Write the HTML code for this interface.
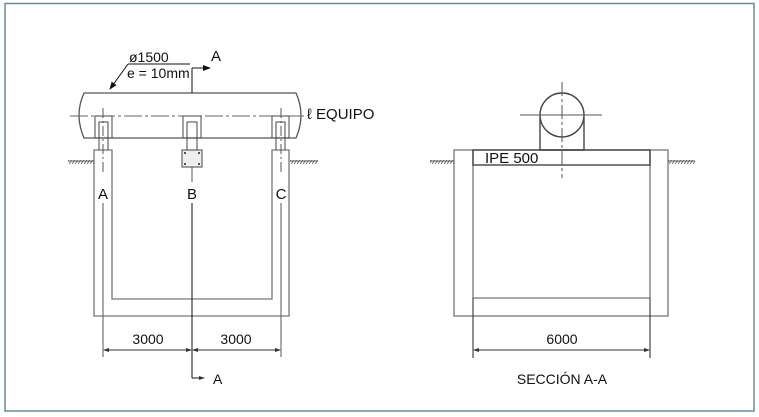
<!DOCTYPE html>
<html><head><meta charset="utf-8"><style>
html,body{margin:0;padding:0;background:#fff}
svg{display:block}
text{font-family:"Liberation Sans",sans-serif;fill:#111}
</style></head><body>
<svg width="759" height="417" viewBox="0 0 759 417" xmlns="http://www.w3.org/2000/svg">
<defs>
<marker id="ar" markerWidth="8" markerHeight="6" refX="7" refY="3" orient="auto" markerUnits="userSpaceOnUse"><path d="M0,0 L8,3 L0,6 Z" fill="#111"/></marker>
<marker id="sa" markerWidth="6" markerHeight="4" refX="5" refY="2" orient="auto" markerUnits="userSpaceOnUse"><path d="M0,0 L6,2 L0,4 Z" fill="#333"/></marker>
<marker id="sb" markerWidth="6" markerHeight="4" refX="1" refY="2" orient="auto" markerUnits="userSpaceOnUse"><path d="M6,0 L0,2 L6,4 Z" fill="#333"/></marker>
<pattern id="h" width="3" height="4" patternUnits="userSpaceOnUse"><line x1="0" y1="4" x2="3" y2="0" stroke="#555" stroke-width="0.8"/></pattern>
</defs>
<rect x="5" y="3.5" width="749" height="407.5" fill="none" stroke="#6a8a94" stroke-width="1.5"/>

<g fill="none" stroke="#777" stroke-width="1.3">
<path d="M94,150 H112 V299 H272 V150 H289 V316 H94 Z"/>
</g>
<rect x="68" y="160" width="26" height="4" fill="url(#h)"/>
<line x1="68" y1="161" x2="94" y2="161" stroke="#555"/>
<rect x="290" y="160" width="28" height="4" fill="url(#h)"/>
<line x1="290" y1="161" x2="318" y2="161" stroke="#555"/>

<path d="M84,93 H296 Q306,115 296,138 H84 Q74,115 84,93 Z" fill="none" stroke="#555" stroke-width="1.3"/>
<line x1="70" y1="116" x2="306" y2="116" stroke="#666" stroke-dasharray="18,3,3,3"/>
<g fill="none" stroke="#555" stroke-width="1.1">
<rect x="95" y="116" width="17" height="22"/><rect x="99" y="122" width="9" height="16"/>
<line x1="99" y1="138" x2="99" y2="150"/><line x1="108" y1="138" x2="108" y2="150"/>
<rect x="183" y="116" width="18" height="22"/><rect x="187" y="122" width="10" height="16"/>
<line x1="187" y1="138" x2="187" y2="150"/><line x1="197" y1="138" x2="197" y2="150"/>
<rect x="182" y="150" width="20" height="17" fill="#eee"/>
<rect x="272" y="116" width="17" height="22"/><rect x="276" y="122" width="9" height="16"/>
<line x1="276" y1="138" x2="276" y2="150"/><line x1="285" y1="138" x2="285" y2="150"/>
</g>
<g fill="#222"><circle cx="185" cy="153" r="1"/><circle cx="199" cy="153" r="1"/><circle cx="185" cy="164" r="1"/><circle cx="199" cy="164" r="1"/></g>
<g stroke="#555" stroke-width="1">
<line x1="103" y1="108" x2="103" y2="175" stroke-dasharray="10,3,2,3"/>
<line x1="281" y1="108" x2="281" y2="175" stroke-dasharray="10,3,2,3"/>
<line x1="103" y1="203" x2="103" y2="357"/>
<line x1="281" y1="203" x2="281" y2="357"/>
<line x1="192" y1="167" x2="192" y2="182"/>
<line x1="192" y1="203" x2="192" y2="378" stroke="#111"/>
<line x1="192" y1="378" x2="204" y2="378" stroke="#111" marker-end="url(#sa)"/>
<line x1="192" y1="93" x2="192" y2="68" stroke="#111"/>
<line x1="192" y1="68" x2="210" y2="68" stroke="#111" marker-end="url(#ar)"/>
</g>
<line x1="128" y1="64" x2="190" y2="64" stroke="#111"/>
<line x1="128" y1="64" x2="110" y2="89" stroke="#111" marker-end="url(#ar)"/>
<text x="129" y="62" font-size="14">ø1500</text>
<text x="127" y="78" font-size="14">e = 10mm</text>
<text x="211" y="61" font-size="15">A</text>
<text x="307" y="119" font-size="15">ℓ EQUIPO</text>
<text x="103" y="199" font-size="15" text-anchor="middle">A</text>
<text x="192" y="199" font-size="15" text-anchor="middle">B</text>
<text x="281" y="199" font-size="15" text-anchor="middle">C</text>
<line x1="104" y1="350" x2="191" y2="350" stroke="#333" marker-start="url(#sb)" marker-end="url(#sa)"/>
<line x1="193" y1="350" x2="280" y2="350" stroke="#333" marker-start="url(#sb)" marker-end="url(#sa)"/>
<text x="148" y="344" font-size="14" text-anchor="middle">3000</text>
<text x="236" y="344" font-size="14" text-anchor="middle">3000</text>
<text x="213" y="384" font-size="14">A</text>

<g fill="none" stroke="#777" stroke-width="1.3">
<rect x="454" y="150" width="214" height="166"/>
<line x1="473" y1="150" x2="473" y2="298"/><line x1="650" y1="150" x2="650" y2="298"/>
<line x1="473" y1="298" x2="650" y2="298"/>
</g>
<rect x="473" y="150" width="177" height="15" fill="none" stroke="#444" stroke-width="1.4"/>
<rect x="430" y="160" width="24" height="4" fill="url(#h)"/>
<line x1="430" y1="161" x2="454" y2="161" stroke="#555"/>
<rect x="668" y="160" width="27" height="4" fill="url(#h)"/>
<line x1="668" y1="161" x2="695" y2="161" stroke="#555"/>
<g fill="none" stroke="#444" stroke-width="1.4">
<circle cx="562" cy="115" r="22"/>
<line x1="540" y1="117" x2="540" y2="150"/><line x1="584" y1="117" x2="584" y2="150"/>
<line x1="540" y1="150" x2="584" y2="150"/>
</g>
<line x1="562" y1="82" x2="562" y2="178" stroke="#555" stroke-dasharray="14,3,3,3"/>
<line x1="520" y1="115" x2="602" y2="115" stroke="#555"/>
<text x="485" y="163" font-size="15">IPE 500</text>
<g stroke="#222"><line x1="473" y1="298" x2="473" y2="358"/><line x1="650" y1="298" x2="650" y2="358"/></g>
<line x1="474" y1="350" x2="649" y2="350" stroke="#333" marker-start="url(#sb)" marker-end="url(#sa)"/>
<text x="562" y="344" font-size="14" text-anchor="middle">6000</text>
<text x="562" y="384" font-size="14" text-anchor="middle">SECCIÓN A-A</text>
</svg>
</body></html>
